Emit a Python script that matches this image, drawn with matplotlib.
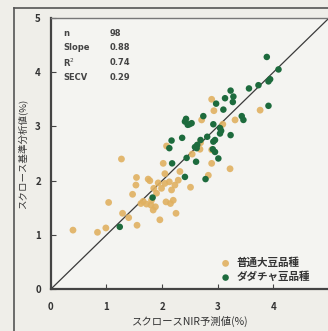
import numpy as np
import matplotlib.pyplot as plt
from matplotlib.lines import Line2D

plt.rcParams['font.family'] = ['Noto Sans CJK JP', 'DejaVu Sans']

# ---- data ----
ordinary_x = [0.40, 0.84, 0.99, 1.04, 1.27, 1.29, 1.40, 1.47, 1.54, 1.53,
              1.55, 1.66, 1.72, 1.78, 1.80, 1.84, 1.85, 1.90, 1.93, 1.96,
              1.99, 2.02, 2.05, 2.07, 2.08, 2.13, 2.15, 2.17, 2.20, 2.25,
              2.23, 2.29, 2.32, 2.05, 2.51, 2.54, 2.69, 2.71, 2.89, 2.93,
              2.83, 2.89, 2.89, 3.22, 3.31, 3.76, 3.09, 1.81, 1.75, 2.68,
              1.62, 1.88]
ordinary_y = [1.09, 1.05, 1.13, 1.60, 2.40, 1.40, 1.32, 1.75, 2.06, 1.92,
              1.18, 1.62, 1.57, 2.00, 1.55, 1.46, 1.86, 1.77, 1.96, 1.28,
              1.86, 2.32, 2.13, 1.61, 2.64, 1.98, 1.58, 1.83, 1.64, 1.40,
              1.92, 2.01, 2.17, 1.95, 1.88, 2.49, 2.70, 3.12, 3.50, 3.29,
              2.10, 2.57, 2.32, 2.22, 3.12, 3.30, 3.04, 1.64, 2.03, 2.58,
              1.58, 1.52]

dadacha_x = [1.24, 1.83, 2.78, 2.41, 2.18, 2.44, 2.61, 2.13, 2.17, 2.36,
             2.41, 2.46, 2.43, 2.59, 2.63, 2.81, 2.95, 2.95, 3.01, 2.92,
             3.04, 3.04, 3.06, 2.97, 3.10, 3.13, 3.23, 3.28, 3.27, 3.23,
             3.43, 3.46, 3.56, 3.73, 3.88, 4.09, 3.94, 3.91, 2.74, 2.53,
             2.91, 2.92, 2.69, 2.62, 3.91, 2.49]
dadacha_y = [1.15, 1.69, 2.03, 2.07, 2.32, 2.42, 2.35, 2.60, 2.74, 2.79,
             3.09, 3.03, 3.14, 2.62, 2.66, 2.81, 2.75, 2.53, 2.41, 3.04,
             2.87, 2.97, 2.92, 3.42, 3.31, 3.52, 3.66, 3.55, 3.45, 2.84,
             3.19, 3.12, 3.70, 3.76, 4.28, 4.05, 3.87, 3.38, 3.19, 3.06,
             2.58, 2.72, 2.75, 2.60, 3.83, 3.04]

stat_names = ['n', 'Slope', 'R$^2$', 'SECV']
stat_values = ['98', '0.88', '0.74', '0.29']

labels = ['普通大豆品種', 'ダダチャ豆品種']
ticks = [0, 1, 2, 3, 4, 5]

# ---- figure ----
bg = '#efeee9'
fig = plt.figure(figsize=(3.28, 3.31), dpi=100, facecolor=bg)
ax = fig.add_axes([0.1546, 0.126, 0.849, 0.820])
ax.set_facecolor('#f4f4f1')

ax.plot([0, 5], [0, 5], color='#3a3a3a', lw=0.9, zorder=1)
ax.scatter(ordinary_x, ordinary_y, s=24, color='#e0b161', edgecolors='none',
           label=labels[0], zorder=2, alpha=0.9)
ax.scatter(dadacha_x, dadacha_y, s=22, color='#1d6b3d', edgecolors='none',
           label=labels[1], zorder=3)

ax.set_xlim(0, 5)
ax.set_ylim(0, 5)
ax.set_xticks(ticks[:-1])
ax.set_yticks(ticks)
ax.tick_params(direction='in', length=3.5, width=0.8, color='#444',
               labelsize=7, labelcolor='#333')
ax.tick_params(axis='x', pad=9)
ax.tick_params(axis='y', pad=7)
for lab in ax.get_xticklabels() + ax.get_yticklabels():
    lab.set_fontweight('bold')

for side in ['left', 'bottom']:
    ax.spines[side].set_linewidth(1.6)
    ax.spines[side].set_color('#444')
ax.spines['top'].set_linewidth(1.0)
ax.spines['top'].set_color('#777')
ax.spines['right'].set_visible(False)

ax.set_xlabel('スクロースNIR予測値(%)', fontsize=7.5, color='#333', labelpad=3)
ax.set_ylabel('スクロース基準分析値(%)', fontsize=6.8, color='#333', labelpad=6)

# stats block
for i, (nm, val) in enumerate(zip(stat_names, stat_values)):
    yy = 4.72 - i * 0.27
    ax.text(0.22, yy, nm, fontsize=6, fontweight='bold', color='#444',
            family='DejaVu Sans', va='center')
    ax.text(1.06, yy, val, fontsize=6, fontweight='bold', color='#444',
            family='DejaVu Sans', va='center')

leg = ax.legend(loc='lower right', bbox_to_anchor=(0.945, 0.01), frameon=False,
                prop={'size': 7.6, 'weight': 'bold'}, handletextpad=0.0,
                borderaxespad=0.0, labelspacing=0.35, markerscale=1.0)
for t in leg.get_texts():
    t.set_color('#333')

# outer scan frame
fig.add_artist(Line2D([14 / 328, 1], [1 - 8 / 331, 1 - 8 / 331],
                      transform=fig.transFigure, color='#555', lw=1.2))
fig.add_artist(Line2D([14 / 328, 14 / 328], [0, 1 - 8 / 331],
                      transform=fig.transFigure, color='#555', lw=1.2))

fig.savefig('out.png', dpi=100, facecolor=bg)
